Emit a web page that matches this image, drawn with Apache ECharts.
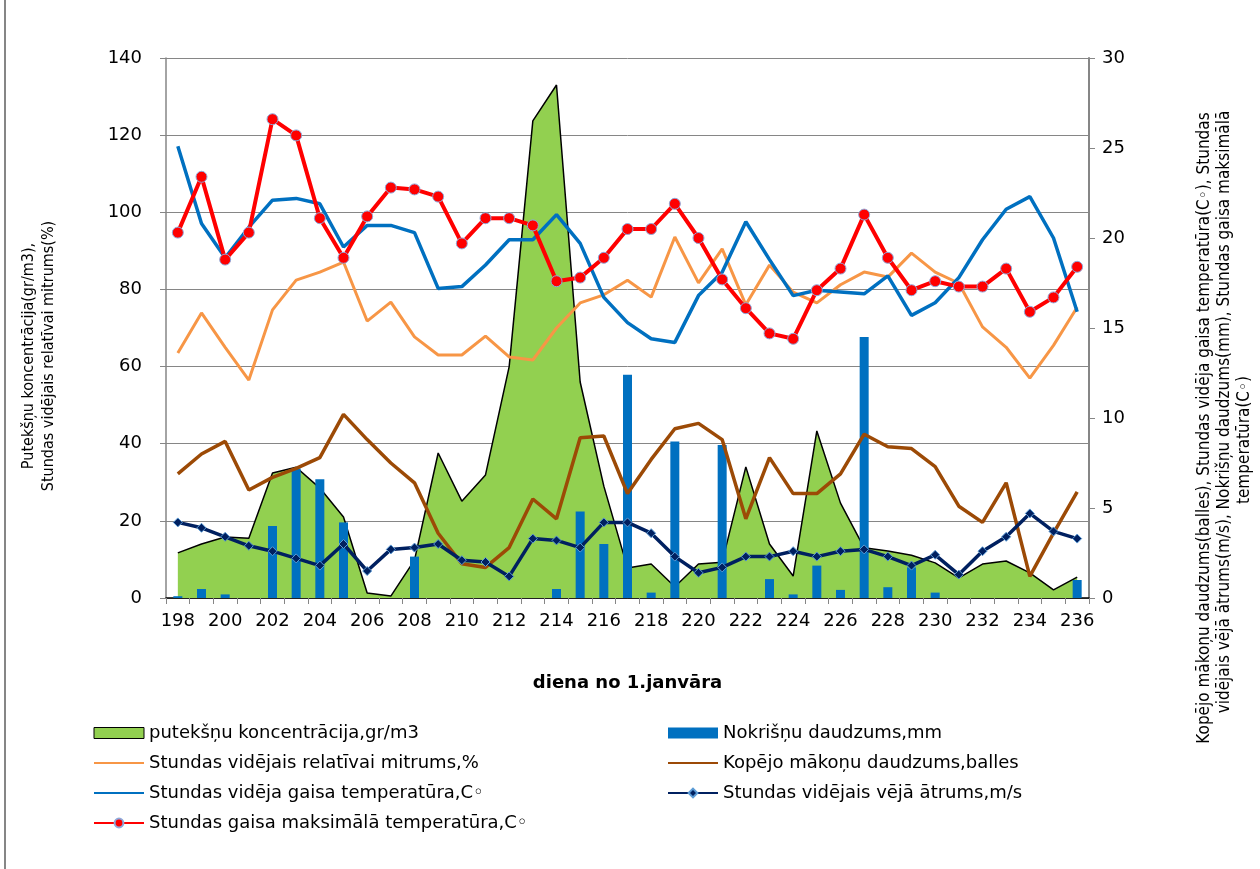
<!DOCTYPE html>
<html>
<head>
<meta charset="utf-8">
<script src="https://cdn.jsdelivr.net/npm/echarts@6/dist/echarts.min.js"></script>
<style>
    html, body {margin: 0; padding: 0; background: #fff;}
    #chart {width: 1260px; height: 869px;}
</style>
</head>
<body>
<div id="chart"></div>
<script>
const days = ['198','199','200','201','202','203','204','205','206','207','208','209','210','211','212','213','214','215','216','217',
    '218','219','220','221','222','223','224','225','226','227','228','229','230','231','232','233','234','235','236']

// left axis
const pollen = [11.7, 14, 15.8, 15.5, 32.4, 33.9, 28.5, 21, 1.3, 0.5, 9.8, 37.6, 25.1, 31.9, 60, 123.7, 133, 56, 29, 7.8,
    8.8, 2.9, 8.8, 9.3, 34, 14, 5.7, 43.3, 24.6, 13, 12.2, 11.1, 9.1, 5.2, 8.8, 9.6, 6.5, 2.1, 5.4]
const humidity = [63.5, 73.9, 65, 56.5, 74.7, 82.4, 84.5, 87.1, 71.8, 76.7, 67.7, 63, 63, 67.9, 62.5, 61.7, 70, 76.5, 78.6, 82.4,
    78, 93.6, 81.7, 90.5, 76, 86.3, 79.3, 76.5, 81.2, 84.5, 83.2, 89.4, 84.5, 81.6, 70.3, 65, 57, 65.5, 75.4]

// right axis
const precip = [0.1, 0.5, 0.2, 0, 4.0, 7.2, 6.6, 4.2, 0, 0, 2.3, 0, 0, 0, 0, 0, 0.5, 4.8, 3.0, 12.4,
    0.3, 8.7, 0, 8.5, 0, 1.05, 0.2, 1.8, 0.45, 14.5, 0.6, 1.7, 0.3, 0, 0, 0, 0, 0, 1.0]
const clouds = [6.9, 8.0, 8.7, 6.0, 6.7, 7.2, 7.8, 10.2, 8.8, 7.5, 6.4, 3.6, 1.9, 1.7, 2.8, 5.5, 4.4, 8.9, 9.0, 5.8,
    7.7, 9.4, 9.7, 8.8, 4.4, 7.8, 5.8, 5.8, 6.9, 9.1, 8.4, 8.3, 7.3, 5.1, 4.2, 6.4, 1.2, 3.6, 5.9]
const avgTemp = [25.1, 20.8, 18.9, 20.6, 22.1, 22.2, 21.9, 19.5, 20.7, 20.7, 20.3, 17.2, 17.3, 18.5, 19.9, 19.9, 21.3, 19.7, 16.7, 15.3,
    14.4, 14.2, 16.8, 18.1, 20.9, 18.8, 16.8, 17.1, 17.0, 16.9, 17.9, 15.7, 16.4, 17.8, 19.9, 21.6, 22.3, 20.0, 15.9]
const wind = [4.2, 3.9, 3.4, 2.9, 2.6, 2.2, 1.8, 3.0, 1.5, 2.7, 2.8, 3.0, 2.1, 2.0, 1.2, 3.3, 3.2, 2.8, 4.2, 4.2,
    3.6, 2.3, 1.4, 1.7, 2.3, 2.3, 2.6, 2.3, 2.6, 2.7, 2.3, 1.8, 2.4, 1.3, 2.6, 3.4, 4.7, 3.7, 3.3]
const maxTemp = [20.3, 23.4, 18.8, 20.3, 26.6, 25.7, 21.1, 18.9, 21.2, 22.8, 22.7, 22.3, 19.7, 21.1, 21.1, 20.7, 17.6, 17.8, 18.9, 20.5,
    20.5, 21.9, 20.0, 17.7, 16.1, 14.7, 14.4, 17.1, 18.3, 21.3, 18.9, 17.1, 17.6, 17.3, 17.3, 18.3, 15.9, 16.7, 18.4]

const leftTicks = [0, 140, 20]
const rightTicks = [0, 30, 5]

const names = {
    pollen: 'putekšņu koncentrācija,gr/m3',
    precip: 'Nokrišņu daudzums,mm',
    humidity: 'Stundas vidējais relatīvai mitrums,%',
    clouds: 'Kopējo mākoņu daudzums,balles',
    avgTemp: 'Stundas vidēja gaisa temperatūra,C◦',
    wind: 'Stundas vidējais vējā ātrums,m/s',
    maxTemp: 'Stundas gaisa maksimālā temperatūra,C◦'
}

const FONT = 'DejaVu Sans'
const NARROW = '"Liberation Sans Narrow", "DejaVu Sans Condensed", sans-serif'
const GRAY = '#868686'

const chart = echarts.init(document.getElementById('chart'))

const legendBase = {
    orient: 'vertical',
    itemWidth: 50,
    itemHeight: 11,
    itemGap: 12,
    textStyle: {fontFamily: FONT, fontSize: 18, color: '#000'}
}
// plain line icon without a marker
const noMark = {opacity: 0}

const option = {
    animation: false,
    grid: {left: 166, right: 171, top: 58, bottom: 271},
    legend: [
        {
            ...legendBase, left: 88, top: 719,
            data: [
                {name: names.pollen, icon: 'rect', itemStyle: {color: '#92D050', borderColor: '#000', borderWidth: 1}},
                {name: names.humidity, itemStyle: noMark},
                {name: names.avgTemp, itemStyle: noMark},
                {name: names.maxTemp}
            ]
        },
        {
            ...legendBase, left: 662, top: 719,
            data: [
                {name: names.precip, icon: 'rect'},
                {name: names.clouds, itemStyle: noMark},
                {name: names.wind}
            ]
        }
    ],
    xAxis: {
        type: 'category',
        data: days,
        boundaryGap: true,
        name: 'diena no 1.janvāra',
        nameLocation: 'middle',
        nameGap: 76,
        nameTextStyle: {fontFamily: FONT, fontSize: 18, fontWeight: 'bold', color: '#000'},
        axisLine: {lineStyle: {color: '#000', width: 1.5}},
        axisTick: {show: true, interval: 0, length: 6, lineStyle: {color: GRAY}},
        axisLabel: {interval: 1, fontFamily: FONT, fontSize: 18, color: '#000', margin: 14}
    },
    yAxis: [
        {
            type: 'value',
            min: leftTicks[0], max: leftTicks[1], interval: leftTicks[2],
            axisLine: {show: true, lineStyle: {color: GRAY, width: 1.5}},
            axisTick: {show: true, length: 6, lineStyle: {color: GRAY}},
            splitLine: {show: true, lineStyle: {color: GRAY, width: 1}},
            axisLabel: {fontFamily: FONT, fontSize: 18, color: '#000', margin: 24}
        },
        {
            type: 'value',
            position: 'right',
            min: rightTicks[0], max: rightTicks[1], interval: rightTicks[2],
            axisLine: {show: true, lineStyle: {color: GRAY, width: 2}},
            axisTick: {show: true, length: 6, lineStyle: {color: GRAY}},
            splitLine: {show: false},
            axisLabel: {fontFamily: FONT, fontSize: 18, color: '#000', margin: 13}
        }
    ],
    series: [
        {
            name: names.pollen,
            type: 'line',
            z: 1,
            data: pollen,
            symbol: 'none',
            lineStyle: {color: '#000', width: 1.5},
            itemStyle: {color: '#92D050'},
            areaStyle: {color: '#92D050', opacity: 1}
        },
        {
            name: names.precip,
            type: 'bar',
            z: 3,
            yAxisIndex: 1,
            barWidth: 9,
            itemStyle: {color: '#0070C0'},
            data: precip
        },
        {
            name: names.humidity,
            type: 'line',
            z: 4,
            data: humidity,
            symbol: 'none',
            lineStyle: {color: '#F79646', width: 3},
            itemStyle: {color: '#F79646'}
        },
        {
            name: names.clouds,
            type: 'line',
            z: 4,
            yAxisIndex: 1,
            data: clouds,
            symbol: 'none',
            lineStyle: {color: '#9C4A06', width: 3.5},
            itemStyle: {color: '#9C4A06'}
        },
        {
            name: names.avgTemp,
            type: 'line',
            z: 4,
            yAxisIndex: 1,
            data: avgTemp,
            symbol: 'none',
            lineStyle: {color: '#0070C0', width: 3.5},
            itemStyle: {color: '#0070C0'}
        },
        {
            name: names.wind,
            type: 'line',
            z: 5,
            yAxisIndex: 1,
            data: wind,
            symbol: 'diamond',
            symbolSize: 9,
            lineStyle: {color: '#002060', width: 3.5},
            itemStyle: {color: '#002060', borderColor: '#5B9BD5', borderWidth: 1}
        },
        {
            name: names.maxTemp,
            type: 'line',
            z: 6,
            yAxisIndex: 1,
            data: maxTemp,
            symbol: 'circle',
            symbolSize: 11,
            lineStyle: {color: '#FF0000', width: 4},
            itemStyle: {color: '#FF0000', borderColor: '#8EA9DB', borderWidth: 1}
        }
    ],
    graphic: [
        {type: 'line', shape: {x1: 5, y1: 0, x2: 5, y2: 869}, style: {stroke: GRAY, lineWidth: 2}},
        // left axis title
        {type: 'text', x: 29, y: 356, rotation: Math.PI / 2,
            style: {text: 'Putekšņu koncentrācija(gr/m3),', font: '16px ' + NARROW, fill: '#000', align: 'center', verticalAlign: 'middle'}},
        {type: 'text', x: 49, y: 356, rotation: Math.PI / 2,
            style: {text: 'Stundas vidējais relatīvai mitrums(%)', font: '16px ' + NARROW, fill: '#000', align: 'center', verticalAlign: 'middle'}},
        // right axis title
        {type: 'text', x: 1205, y: 428, rotation: Math.PI / 2,
            style: {text: 'Kopējo mākoņu daudzums(balles), Stundas vidēja gaisa temperatūra(C◦), Stundas', font: '17px ' + NARROW, fill: '#000', align: 'center', verticalAlign: 'middle'}},
        {type: 'text', x: 1225, y: 412, rotation: Math.PI / 2,
            style: {text: 'vidējais vējā ātrums(m/s), Nokrišņu daudzums(mm), Stundas gaisa maksimālā', font: '17px ' + NARROW, fill: '#000', align: 'center', verticalAlign: 'middle'}},
        {type: 'text', x: 1245, y: 440, rotation: Math.PI / 2,
            style: {text: 'temperatūra(C◦)', font: '17px ' + NARROW, fill: '#000', align: 'center', verticalAlign: 'middle'}}
    ]
}

chart.setOption(option)
</script>
</body>
</html>
